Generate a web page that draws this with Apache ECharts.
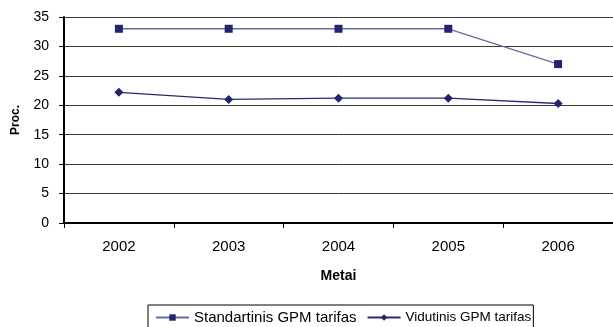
<!DOCTYPE html>
<html><head><meta charset="utf-8">
<script src="https://cdn.jsdelivr.net/npm/echarts@6/dist/echarts.min.js"></script>
<style>html,body{margin:0;padding:0;background:#fff}#c{width:613px;height:327px}</style>
</head><body><div id="c"></div>
<script>
var categories = ['2002','2003','2004','2005','2006'];
var standartinis = [33, 33, 33, 33, 27];
var vidutinis = [22.2, 21, 21.2, 21.2, 20.3];
var yTicks = [0,5,10,15,20,25,30,35];
var seriesNames = ['Standartinis GPM tarifas', 'Vidutinis GPM tarifas'];

var chart = echarts.init(document.getElementById('c'));
chart.setOption({
  animation: false,
  textStyle: {fontFamily: 'Liberation Sans, Arial, sans-serif'},
  grid: {left: 64, right: -4, top: 17, bottom: 104, containLabel: false},
  xAxis: {
    type: 'category', data: categories, boundaryGap: true,
    name: 'Metai', nameLocation: 'middle', nameGap: 46,
    nameTextStyle: {fontWeight: 'bold', fontSize: 14, color: '#000'},
    axisLine: {lineStyle: {color: '#000', width: 2}},
    axisTick: {show: true, length: 5, lineStyle: {color: '#000'}},
    axisLabel: {color: '#000', fontSize: 15, margin: 16}
  },
  yAxis: {
    type: 'value', min: 0, max: 35, interval: 5,
    name: 'Proc.', nameLocation: 'middle', nameGap: 42, nameRotate: 90,
    nameTextStyle: {fontWeight: 'bold', fontSize: 12, color: '#000'},
    axisLine: {show: true, lineStyle: {color: '#000', width: 2}},
    axisTick: {show: true, length: 5, lineStyle: {color: '#000'}},
    axisLabel: {color: '#000', fontSize: 14, margin: 15,
      formatter: function(v){ return yTicks.indexOf(v) >= 0 ? String(v) : ''; }},
    splitLine: {show: true, lineStyle: {color: '#3a3a3a', width: 1}}
  },
  legend: {
    top: 305, left: 148, itemGap: 10,
    padding: [5, 2, 12, 7],
    borderColor: '#000', borderWidth: 1,
    itemWidth: 33, itemHeight: 8,
    textStyle: {color: '#000'},
    data: [
      {name: seriesNames[0], textStyle: {fontSize: 15}},
      {name: seriesNames[1], textStyle: {fontSize: 13.5}}
    ]
  },
  series: [
    {name: seriesNames[0], type: 'line', data: standartinis,
     symbol: 'rect', symbolSize: 8,
     lineStyle: {color: '#6b6ba3', width: 1.3},
     itemStyle: {color: '#23236f'}},
    {name: seriesNames[1], type: 'line', data: vidutinis,
     symbol: 'diamond', symbolSize: 9,
     lineStyle: {color: '#2a2a74', width: 1.3},
     itemStyle: {color: '#23236f'}}
  ]
});
</script></body></html>
